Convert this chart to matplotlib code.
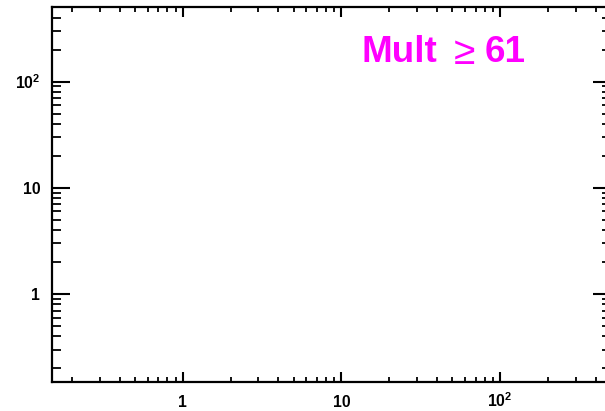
import numpy as np
import matplotlib
matplotlib.use('Agg')
import matplotlib.pyplot as plt
from matplotlib.ticker import FixedLocator, LogLocator, NullFormatter

plt.rcParams['font.family'] = ['Liberation Sans', 'DejaVu Sans']
plt.rcParams['mathtext.fontset'] = 'custom'
plt.rcParams['mathtext.rm'] = 'Liberation Sans:bold'
plt.rcParams['mathtext.default'] = 'rm'

# axis ranges and ticks
x_range = [0.15, 500]
y_range = [0.15, 500]
major_ticks = [1, 10, 100]
tick_labels = ['1', '10', r'10$^{2}$']
label_text = 'Mult'
label_cut = '61'

fig = plt.figure(figsize=(6.05, 4.11), dpi=100)
ax = fig.add_axes([0.0860, 0.0713, 0.924, 0.911])
ax.set_xscale('log')
ax.set_yscale('log')
ax.set_xlim(x_range)
ax.set_ylim(y_range)

for axis in (ax.xaxis, ax.yaxis):
    axis.set_major_locator(FixedLocator(major_ticks))
    axis.set_minor_locator(LogLocator(base=10, subs=np.arange(2, 10)))
    axis.set_minor_formatter(NullFormatter())
ax.set_xticklabels(tick_labels)
ax.set_yticklabels(tick_labels)

for s in ax.spines.values():
    s.set_linewidth(1.6)

ax.tick_params(axis='x', which='major', direction='in', length=7.5, width=1.5,
               top=True, bottom=True, labelsize=11.3, pad=18.5)
ax.tick_params(axis='x', which='minor', direction='in', length=3.8, width=1.3,
               top=True, bottom=True)
ax.tick_params(axis='y', which='major', direction='in', length=13, width=1.5,
               left=True, right=True, labelsize=11.3, pad=8.5)
ax.tick_params(axis='y', which='minor', direction='in', length=6.5, width=1.3,
               left=True, right=True)
for lab in ax.get_xticklabels():
    lab.set_fontweight('bold')
    lab.set_va('baseline')
for lab in ax.get_yticklabels():
    lab.set_fontweight('bold')

base = 0.853
ax.text(0.553, base, label_text, transform=ax.transAxes, color='#ff00ff',
        fontsize=26.5, fontweight='bold', ha='left', va='baseline')
ax.text(0.719, base - 0.004, '\u2265', transform=ax.transAxes, color='#ff00ff',
        fontsize=28, fontweight='normal', family='Liberation Sans',
        ha='left', va='baseline')
ax.text(0.774, base, label_cut, transform=ax.transAxes, color='#ff00ff',
        fontsize=26.5, fontweight='bold', ha='left', va='baseline')

fig.savefig('out.png', dpi=100)
